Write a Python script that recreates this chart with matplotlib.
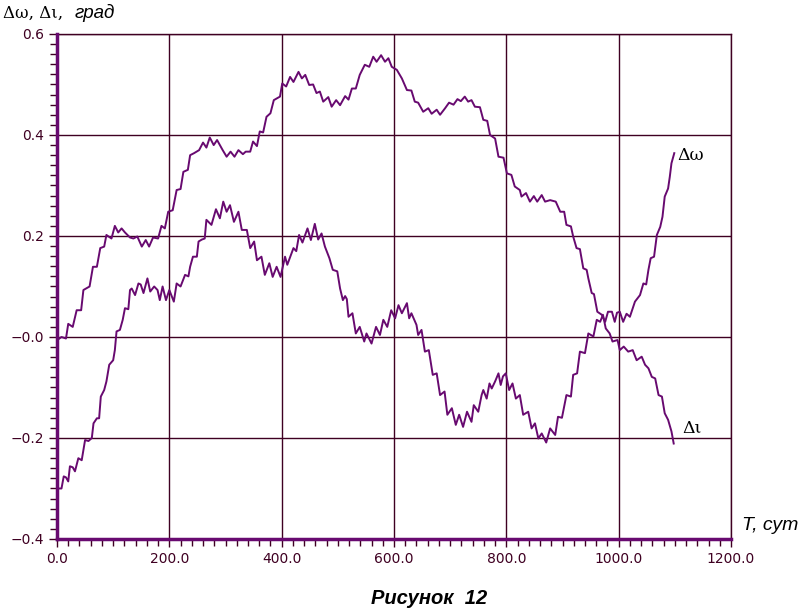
import matplotlib.pyplot as plt
from matplotlib.ticker import MultipleLocator

# Δω, град
t_omega = [0.5, 8, 16, 20, 28, 35, 43, 47, 58, 64, 71, 77, 84, 88, 97, 103, 109, 115, 121,
           130, 136, 143, 151, 158, 164, 171, 180, 186, 192, 198, 206, 213, 220, 225, 233,
           237, 244, 253, 260, 266, 272, 279, 285, 295, 302, 309, 316, 323, 331, 336, 344,
           349, 356, 361, 367, 373, 380, 386, 397, 401, 408, 415, 421, 430, 436, 442, 449,
           456, 462, 468, 474, 483, 489, 497, 504, 513, 519, 525, 532, 539, 548, 556, 563,
           569, 577, 584, 590, 596, 605, 614, 623, 631, 637, 643, 652, 661, 667, 676, 682,
           691, 698, 706, 713, 719, 726, 732, 738, 744, 753, 759, 766, 771, 780, 786, 795,
           801, 809, 815, 824, 827, 835, 842, 849, 855, 863, 869, 878, 888, 896, 903, 907,
           915, 919, 925, 931, 937, 943, 946, 952, 956, 962, 970, 976, 981, 988, 993, 997,
           1002, 1008, 1014, 1020, 1029, 1038, 1044, 1049, 1053, 1057, 1063, 1068, 1074,
           1078, 1082, 1088, 1091, 1094, 1099]
omega = [-0.006, 0.000, -0.003, 0.026, 0.020, 0.053, 0.053, 0.093, 0.100, 0.139, 0.139,
         0.176, 0.179, 0.202, 0.195, 0.220, 0.207, 0.215, 0.207, 0.197, 0.195, 0.199, 0.179,
         0.192, 0.179, 0.197, 0.195, 0.220, 0.215, 0.248, 0.251, 0.291, 0.293, 0.327, 0.331,
         0.360, 0.364, 0.370, 0.385, 0.375, 0.395, 0.380, 0.390, 0.370, 0.357, 0.367, 0.357,
         0.370, 0.362, 0.367, 0.367, 0.387, 0.378, 0.407, 0.405, 0.436, 0.443, 0.469, 0.476,
         0.502, 0.496, 0.515, 0.505, 0.525, 0.512, 0.519, 0.499, 0.500, 0.483, 0.486, 0.466,
         0.475, 0.456, 0.469, 0.459, 0.477, 0.470, 0.492, 0.492, 0.519, 0.539, 0.535, 0.555,
         0.545, 0.558, 0.545, 0.552, 0.535, 0.529, 0.512, 0.489, 0.488, 0.466, 0.464, 0.446,
         0.453, 0.442, 0.450, 0.440, 0.453, 0.464, 0.460, 0.471, 0.467, 0.476, 0.466, 0.469,
         0.456, 0.455, 0.430, 0.428, 0.400, 0.393, 0.357, 0.355, 0.324, 0.321, 0.298, 0.291,
         0.278, 0.285, 0.268, 0.279, 0.268, 0.281, 0.268, 0.271, 0.268, 0.248, 0.248, 0.222,
         0.219, 0.199, 0.176, 0.174, 0.136, 0.133, 0.116, 0.087, 0.085, 0.050, 0.044, 0.030,
         0.050, 0.050, 0.030, 0.048, 0.050, 0.030, 0.046, 0.040, 0.070, 0.083, 0.106, 0.104,
         0.133, 0.156, 0.159, 0.202, 0.218, 0.238, 0.278, 0.294, 0.317, 0.344, 0.364]

# Δι, град
t_iota = [0.5, 8, 12, 16, 20, 23, 28, 32, 38, 44, 50, 56, 62, 65, 71, 75, 78, 84, 88, 93,
          100, 103, 106, 112, 117, 121, 127, 130, 133, 139, 145, 149, 154, 161, 166, 173,
          179, 183, 188, 194, 200, 208, 213, 220, 228, 234, 237, 242, 249, 252, 258, 263,
          266, 275, 283, 290, 296, 302, 308, 315, 323, 329, 338, 344, 351, 356, 364, 370,
          378, 384, 391, 398, 406, 410, 421, 426, 431, 437, 446, 452, 459, 465, 471, 477,
          485, 491, 499, 504, 509, 513, 516, 519, 526, 532, 539, 547, 551, 560, 568, 575,
          581, 588, 595, 602, 608, 614, 623, 627, 631, 640, 643, 649, 655, 662, 669, 676,
          682, 690, 695, 703, 710, 716, 723, 730, 738, 742, 750, 756, 759, 765, 770, 774,
          780, 786, 790, 794, 799, 805, 811, 817, 824, 830, 839, 845, 851, 857, 863, 871,
          878, 887, 892, 899, 907, 915, 919, 926, 931, 940, 946, 955, 961, 967, 972, 977,
          984, 989, 998, 1002, 1009, 1017, 1025, 1032, 1041, 1047, 1053, 1059, 1065, 1071,
          1077, 1082, 1088, 1094, 1098]
iota = [-0.300, -0.300, -0.276, -0.278, -0.286, -0.256, -0.258, -0.266, -0.240, -0.244,
        -0.204, -0.206, -0.200, -0.171, -0.161, -0.161, -0.118, -0.105, -0.088, -0.055,
        -0.046, -0.026, 0.011, 0.014, 0.034, 0.057, 0.055, 0.093, 0.096, 0.083, 0.106,
        0.104, 0.087, 0.116, 0.090, 0.100, 0.093, 0.073, 0.100, 0.073, 0.093, 0.070, 0.106,
        0.100, 0.123, 0.120, 0.139, 0.159, 0.159, 0.189, 0.193, 0.195, 0.232, 0.222, 0.253,
        0.235, 0.268, 0.248, 0.261, 0.228, 0.248, 0.212, 0.212, 0.176, 0.189, 0.152, 0.159,
        0.123, 0.146, 0.119, 0.139, 0.119, 0.159, 0.143, 0.176, 0.170, 0.202, 0.187, 0.215,
        0.192, 0.224, 0.193, 0.205, 0.179, 0.156, 0.133, 0.130, 0.096, 0.073, 0.081, 0.075,
        0.040, 0.047, 0.007, 0.020, -0.009, 0.007, -0.013, 0.020, 0.004, 0.034, 0.020, 0.053,
        0.037, 0.063, 0.047, 0.067, 0.037, 0.047, 0.024, 0.004, 0.014, -0.029, -0.026,
        -0.075, -0.072, -0.115, -0.108, -0.154, -0.141, -0.174, -0.154, -0.178, -0.148,
        -0.168, -0.135, -0.148, -0.115, -0.105, -0.122, -0.092, -0.102, -0.088, -0.072,
        -0.095, -0.078, -0.072, -0.105, -0.092, -0.122, -0.115, -0.154, -0.148, -0.181,
        -0.171, -0.201, -0.191, -0.209, -0.181, -0.194, -0.158, -0.160, -0.115, -0.118,
        -0.075, -0.072, -0.029, -0.032, 0.007, 0.001, 0.034, 0.030, 0.044, 0.017, 0.007,
        -0.009, -0.006, -0.026, -0.019, -0.029, -0.026, -0.046, -0.039, -0.055, -0.062,
        -0.079, -0.082, -0.115, -0.118, -0.151, -0.164, -0.187, -0.211]

x_ticks = [0, 200, 400, 600, 800, 1000, 1200]
x_labels = ['0.0', '200.0', '400.0', '600.0', '800.0', '1000.0', '1200.0']
y_ticks = [-0.4, -0.2, 0.0, 0.2, 0.4, 0.6]
y_labels = ['\u22120.4', '\u22120.2', '\u22120.0', '0.2', '0.4', '0.6']

line_c = '#680a70'
grid_c = '#3f0022'

fig = plt.figure(figsize=(8, 6.1), dpi=100)
ax = fig.add_axes([0.07125, 0.1164, 0.8425, 0.8279])

ax.plot(t_omega, omega, color=line_c, lw=1.4)
ax.plot(t_iota, iota, color=line_c, lw=1.4)

ax.set_xlim(0, 1200)
ax.set_ylim(-0.4, 0.6)
ax.set_xticks(x_ticks)
ax.set_xticklabels(x_labels)
ax.set_yticks(y_ticks)
ax.set_yticklabels(y_labels)
ax.xaxis.set_minor_locator(MultipleLocator(20))
ax.yaxis.set_minor_locator(MultipleLocator(0.02))
ax.tick_params(which='both', direction='out', color=grid_c, width=1, labelcolor=grid_c,
               labelsize=10)
ax.tick_params(which='major', length=6)
ax.tick_params(which='minor', length=5)

ax.grid(True, which='major', color=grid_c, lw=1)
for s in ['top', 'right']:
    ax.spines[s].set_color(grid_c)
    ax.spines[s].set_linewidth(1)
for s in ['left', 'bottom']:
    ax.spines[s].set_color(line_c)
    ax.spines[s].set_linewidth(2.5)
    ax.spines[s].set_zorder(5)

ax.text(1105, 0.36, '\u0394\u03c9', fontsize=12.5, family='DejaVu Serif', va='center')
ax.text(1113, -0.18, '\u0394\u03b9', fontsize=12.5, family='DejaVu Serif', va='center')

fig.text(0.004, 0.978, '\u0394\u03c9, \u0394\u03b9,', fontsize=12, family='DejaVu Serif',
         va='center')
fig.text(0.093, 0.978, '\u0433\u0440\u0430\u0434', fontsize=13.5, style='italic',
         family='Liberation Sans', va='center')
fig.text(0.927, 0.139, 'T, \u0441\u0443\u0442', fontsize=14, style='italic',
         family='Liberation Sans', va='center')
fig.text(0.537, 0.019, '\u0420\u0438\u0441\u0443\u043d\u043e\u043a  12', fontsize=14.5,
         style='italic', weight='bold', family='Liberation Sans', ha='center', va='center')

fig.savefig('out.png', dpi=100)
